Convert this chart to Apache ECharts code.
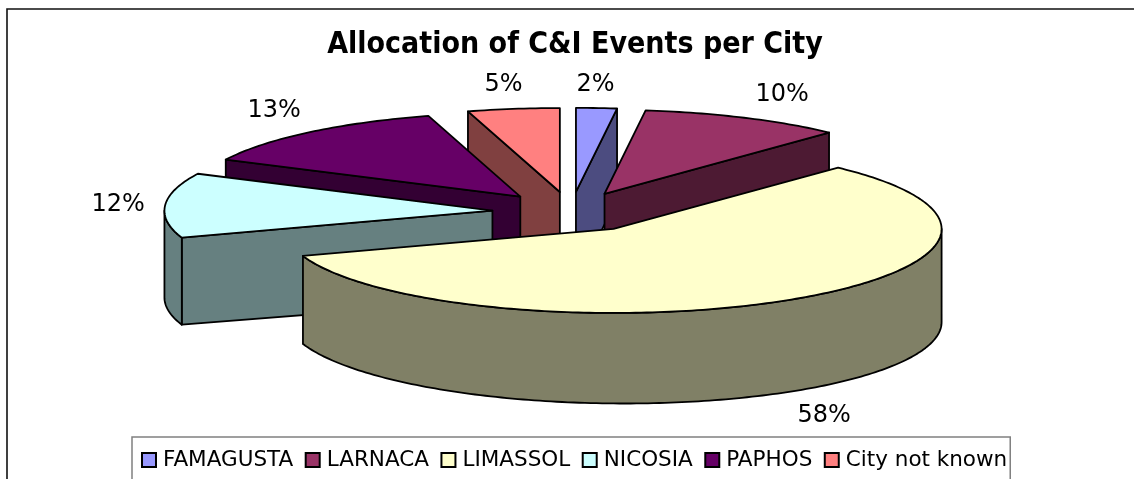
<!DOCTYPE html>
<html><head><meta charset="utf-8">
<style>html,body{margin:0;padding:0;background:#fff}#c{width:1134px;height:479px}</style>
<script src="https://cdn.jsdelivr.net/npm/echarts@6/dist/echarts.min.js"></script>
</head><body><div id="c"></div>
<script>
const categories = ['FAMAGUSTA','LARNACA','LIMASSOL','NICOSIA','PAPHOS','City not known'];
const values = [2, 10, 57.8, 12.45, 13.23, 4.52];
const topColors = ['#9999FF','#993366','#FFFFCC','#CCFFFF','#660066','#FF8080'];
const wallColors = ['#4C4C80','#4D1A33','#808066','#668080','#330033','#804040'];
const drawOrder = [5,0,1,4,3,2];
const labelShift = [[-1,-23],[38,-23],[33,24],[-47,-1],[-35,-22],[-10,-24]];

const FONT = '"DejaVu Sans",sans-serif';
const TITLE_FONT = '"DejaVu Sans Condensed","DejaVu Sans",sans-serif';
const CX = 571, CY = 212, RX = 328, RY = 84, DEPTH = 88, DEPTH_SKEW = 0.008, EXPLODE = 0.24;
const total = values.reduce((a,b)=>a+b,0);
const rad = d => d*Math.PI/180;

function sliceAngles(i){
  let s = 0;
  for(let k=0;k<i;k++) s += values[k];
  return [s/total*360, (s+values[i])/total*360];
}
function renderSlice(i){
  const [a0,a1] = sliceAngles(i), mid = (a0+a1)/2;
  const ax = CX + EXPLODE*RX*Math.sin(rad(mid));
  const ay = CY - EXPLODE*RY*Math.cos(rad(mid));
  const rim = a => [ax + RX*Math.sin(rad(a)), ay - RY*Math.cos(rad(a))];
  const down = p => [p[0], p[1]+DEPTH+DEPTH_SKEW*(p[0]-300)];
  const line = {stroke:'#000', lineWidth:1.8, lineJoin:'round'};
  const poly = (pts, fill) => ({type:'polygon', shape:{points:pts}, style:Object.assign({fill}, line)});
  const kids = [];
  const wall = wallColors[i];
  if(a0>180){ const p=rim(a0); kids.push(poly([[ax,ay],p,down(p),down([ax,ay])], wall)); }
  if(a1<180){ const p=rim(a1); kids.push(poly([[ax,ay],p,down(p),down([ax,ay])], wall)); }
  const r0=Math.max(a0,90), r1=Math.min(a1,270);
  if(r1>r0){
    const top=[], bot=[];
    for(let a=r0;a<r1;a+=1){ top.push(rim(a)); }
    top.push(rim(r1));
    top.forEach(p=>bot.unshift(down(p)));
    kids.push(poly(top.concat(bot), wall));
  }
  const face=[[ax,ay]];
  for(let a=a0;a<a1;a+=1) face.push(rim(a));
  face.push(rim(a1));
  kids.push(poly(face, topColors[i]));
  const lp = Math.cos(rad(mid))<0 ? down(rim(mid)) : rim(mid);
  kids.push({type:'text', z2:50, style:{
    x: lp[0]+labelShift[i][0], y: lp[1]+labelShift[i][1],
    text: Math.round(values[i]/total*100)+'%',
    align:'center', verticalAlign:'middle', fill:'#000',
    font:'24px '+FONT}});
  return {type:'group', children:kids};
}
const series = drawOrder.map(i=>({
  type:'custom', name:categories[i], coordinateSystem:'none',
  data:[values[i]], z:2+drawOrder.indexOf(i),
  itemStyle:{color:topColors[i]},
  silent:true, animation:false,
  renderItem:()=>renderSlice(i)
}));
const chart = echarts.init(document.getElementById('c'),null,{renderer:'canvas'});
chart.setOption({
  animation:false, backgroundColor:'#fff',
  title:{text:'Allocation of C&I Events per City', left:570, top:25, textAlign:'center',
    textStyle:{fontFamily:TITLE_FONT, fontWeight:'bold', fontSize:30, color:'#000'}},
  legend:{data:categories, left:132, top:437, orient:'horizontal',
    padding:[12,3,18,9], itemGap:11.5, itemWidth:14, itemHeight:14, selectedMode:false,
    borderColor:'#808080', borderWidth:1.5, backgroundColor:'#fff', icon:'rect',
    itemStyle:{borderColor:'#000', borderWidth:2},
    textStyle:{fontFamily:FONT, fontSize:21.5, color:'#000', padding:[0,0,0,2]}},
  graphic:[{type:'polyline', z:0, shape:{points:[[7,479],[7,9],[1134,9]]},
    style:{stroke:'#111', lineWidth:1.6, fill:null}}],
  series
});
</script></body></html>
